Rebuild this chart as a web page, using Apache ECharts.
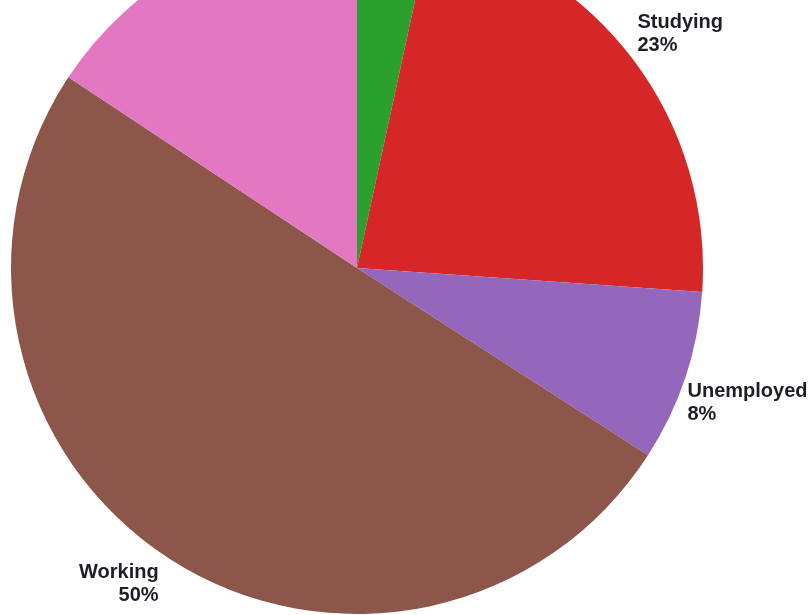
<!DOCTYPE html>
<html>
<head>
<meta charset="utf-8">
<script src="https://cdn.jsdelivr.net/npm/echarts@6/dist/echarts.min.js"></script>
<style>
  html, body { margin: 0; padding: 0; background: #fff; }
  #chart { width: 811px; height: 615px; }
</style>
</head>
<body>
<div id="chart"></div>
<script>
// Activity breakdown, clockwise from 12 o'clock
const categories = ['Retired', 'Studying', 'Unemployed', 'Working', 'Other'];
const values = [3.4, 22.7, 8.0, 50.2, 15.7];
const colors = ['#2ca02c', '#d62728', '#9467bd', '#8c564b', '#e377c2'];
const labelled = ['Studying', 'Unemployed', 'Working'];
const leftSide = ['Working'];

// small label nudges (px) on top of the ring placement
const labelNudge = { Studying: [1, 8], Unemployed: [8, 8], Working: [-18, -22] };

const labelFont = { fontFamily: 'Liberation Sans, Arial, sans-serif', fontSize: 20, fontWeight: 'bold', color: '#1e1e28', lineHeight: 23 };

const chart = echarts.init(document.getElementById('chart'), null, { renderer: 'canvas' });

const center = [357, 268];
const R = 346;

chart.setOption({
  animation: false,
  series: [
    {
      // the visible pie
      type: 'pie',
      center: center,
      radius: [0, R],
      startAngle: 90,
      clockwise: true,
      silent: true,
      label: { show: false },
      labelLine: { show: false },
      data: categories.map((c, i) => ({ name: c, value: values[i], itemStyle: { color: colors[i] } })),
    },
    {
      // invisible ring only used to place the labels outside the pie
      type: 'pie',
      center: center,
      radius: [R + 4, R + 104],
      startAngle: 90,
      clockwise: true,
      silent: true,
      percentPrecision: 0,
      itemStyle: { color: 'rgba(0,0,0,0)' },
      labelLine: { show: false },
      label: {
        show: true,
        position: 'inside',
        formatter: '{l|{b}}\n{l|{d}%}',
        rich: { l: Object.assign({ align: 'left' }, labelFont), r: Object.assign({ align: 'right' }, labelFont) },
      },
      labelLayout: (p) => {
        const n = labelNudge[categories[p.dataIndex]] || [0, 0];
        return { dx: n[0], dy: n[1] };
      },
      data: categories.map((c, i) => ({
        name: c,
        value: values[i],
        label: {
          show: labelled.includes(c),
          formatter: leftSide.includes(c) ? '{r|{b}}\n{r|{d}%}' : '{l|{b}}\n{l|{d}%}',
        },
      })),
    },
  ],
});
</script>
</body>
</html>
